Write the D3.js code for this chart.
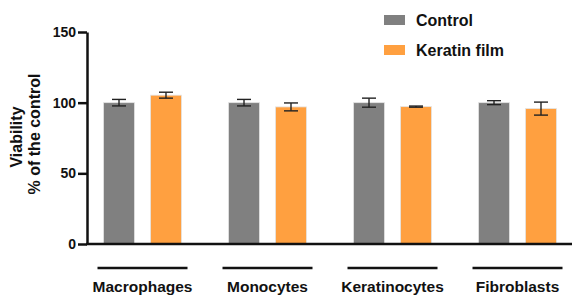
<!DOCTYPE html>
<html lang="en">
<head>
<meta charset="UTF-8">
<title>Viability</title>
<script src="https://cdnjs.cloudflare.com/ajax/libs/d3/7.8.5/d3.min.js"></script>
<style>
  body { margin: 0; background: #fff; }
  svg text { font-family: "Liberation Sans", Arial, sans-serif; font-weight: bold; fill: #111; }
</style>
</head>
<body>
<svg width="572" height="296"></svg>
<script>
  // data
  const categories = ["Macrophages", "Monocytes", "Keratinocytes", "Fibroblasts"];
  const series = ["Control", "Keratin film"];
  const controlMean = [100, 100, 100, 100];
  const controlErr = [2.3, 2.3, 3.2, 1.4];
  const filmMean = [105.3, 97, 97.2, 95.8];
  const filmErr = [2.1, 2.8, 0.4, 4.6];
  const yTicks = [0, 50, 100, 150];
  const colors = ["#808080", "#ffa040"];

  const svg = d3.select("svg");

  const y = d3.scaleLinear().domain([0, 150]).range([244, 32]);
  const x0 = d3.scaleBand().domain(categories).range([80, 580]);
  const x1 = d3.scaleBand().domain(series).range([0, 78]).paddingInner(0.34);

  const rows = categories.map((c, i) => ({
    cat: c,
    vals: [
      { s: series[0], v: controlMean[i], e: controlErr[i] },
      { s: series[1], v: filmMean[i], e: filmErr[i] }
    ]
  }));

  const groups = svg.append("g").selectAll("g")
    .data(rows)
    .enter()
    .append("g")
    .attr("transform", d => `translate(${x0(d.cat) + x0.bandwidth() / 2 - 39},0)`);

  groups.selectAll("rect")
    .data(d => d.vals)
    .enter()
    .append("rect")
    .attr("x", d => x1(d.s))
    .attr("y", d => y(d.v))
    .attr("width", x1.bandwidth())
    .attr("height", d => y(0) - y(d.v))
    .attr("fill", (d, i) => colors[i])
    .attr("stroke", "#e4e4e4")
    .attr("stroke-width", 0.8);

  // error bars
  const eb = groups.selectAll("g.err")
    .data(d => d.vals)
    .enter()
    .append("g")
    .attr("class", "err")
    .attr("stroke", "#222")
    .attr("stroke-width", 1.4);
  eb.append("line")
    .attr("x1", d => x1(d.s) + x1.bandwidth() / 2)
    .attr("x2", d => x1(d.s) + x1.bandwidth() / 2)
    .attr("y1", d => y(d.v + d.e))
    .attr("y2", d => y(d.v - d.e));
  eb.selectAll("line.cap")
    .data(d => [d.v + d.e, d.v - d.e].map(v => ({ s: d.s, v })))
    .enter()
    .append("line")
    .attr("class", "cap")
    .attr("x1", d => x1(d.s) + x1.bandwidth() / 2 - 7)
    .attr("x2", d => x1(d.s) + x1.bandwidth() / 2 + 7)
    .attr("y1", d => y(d.v))
    .attr("y2", d => y(d.v));

  // y axis
  const yAxis = svg.append("g")
    .attr("transform", "translate(87,0)")
    .call(d3.axisLeft(y).tickValues(yTicks).tickSize(9).tickPadding(2).tickSizeOuter(0));
  yAxis.select(".domain").attr("stroke", "#111").attr("stroke-width", 2.5);
  yAxis.selectAll(".tick line").attr("stroke", "#111").attr("stroke-width", 2.5);
  yAxis.selectAll(".tick text").style("font-size", "14px").attr("fill", "#111");

  // x baseline
  svg.append("line")
    .attr("x1", 86).attr("x2", 572)
    .attr("y1", y(0)).attr("y2", y(0))
    .attr("stroke", "#111").attr("stroke-width", 2.5);

  // group underlines and labels
  const lab = svg.append("g").selectAll("g")
    .data(categories)
    .enter()
    .append("g")
    .attr("transform", d => `translate(${x0(d) + x0.bandwidth() / 2},0)`);
  lab.append("line")
    .attr("x1", -45).attr("x2", 45)
    .attr("y1", 268).attr("y2", 268)
    .attr("stroke", "#111").attr("stroke-width", 2.5);
  lab.append("text")
    .attr("y", 292)
    .attr("text-anchor", "middle")
    .style("font-size", "15.5px")
    .text(d => d);

  // y title
  svg.append("text")
    .attr("transform", "translate(22,137) rotate(-90)")
    .attr("text-anchor", "middle")
    .style("font-size", "16px")
    .text("Viability");
  svg.append("text")
    .attr("transform", "translate(40,134) rotate(-90)")
    .attr("text-anchor", "middle")
    .style("font-size", "16px")
    .text("% of the control");

  // legend
  const leg = svg.append("g").selectAll("g")
    .data(series)
    .enter()
    .append("g")
    .attr("transform", (d, i) => `translate(384,${15 + i * 30})`);
  leg.append("rect")
    .attr("width", 21).attr("height", 10)
    .attr("fill", (d, i) => colors[i]);
  leg.append("text")
    .attr("x", 32).attr("y", 11)
    .style("font-size", "16px")
    .text(d => d);
</script>
</body>
</html>
